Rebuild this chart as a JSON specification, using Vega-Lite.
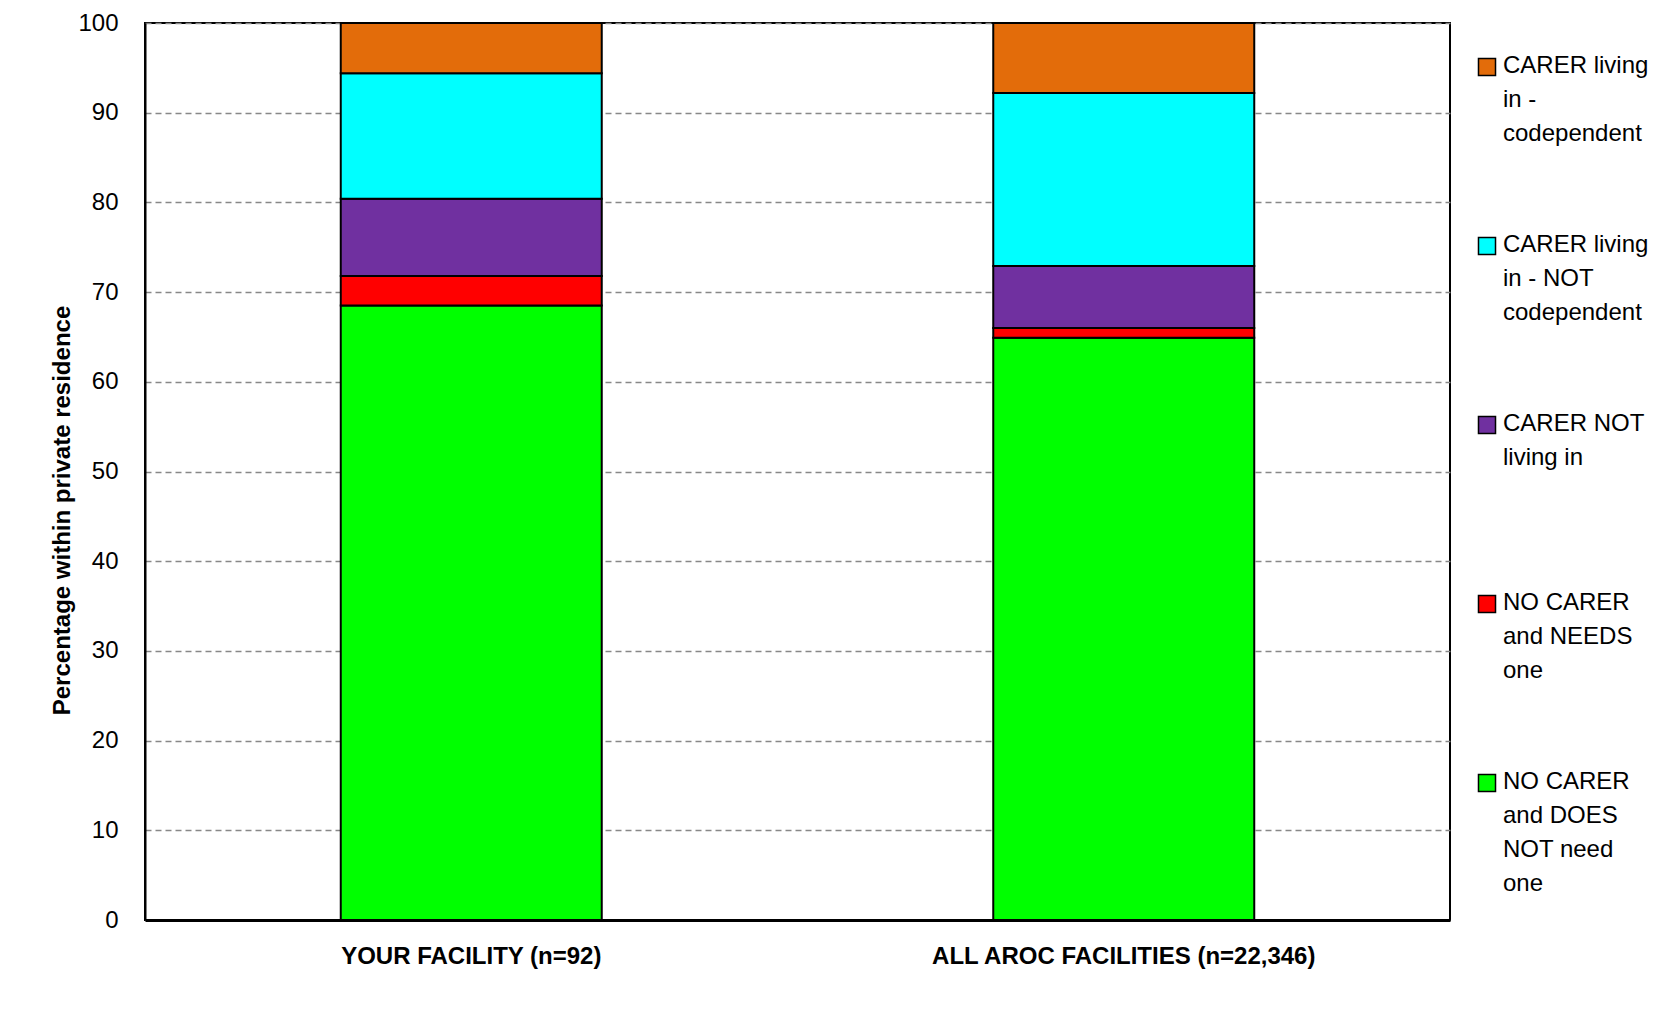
{
  "$schema": "https://vega.github.io/schema/vega-lite/v6.json",
  "width": 1305,
  "height": 897,
  "autosize": "none",
  "padding": {"left": 145, "top": 23, "right": 221, "bottom": 92},
  "background": "white",
  "data": {
    "values": [
      {"group": "YOUR FACILITY (n=92)", "category": "NO CARER and DOES NOT need one", "pct": 68.5},
      {"group": "YOUR FACILITY (n=92)", "category": "NO CARER and NEEDS one", "pct": 3.3},
      {"group": "YOUR FACILITY (n=92)", "category": "CARER NOT living in", "pct": 8.6},
      {"group": "YOUR FACILITY (n=92)", "category": "CARER living in - NOT codependent", "pct": 14.0},
      {"group": "YOUR FACILITY (n=92)", "category": "CARER living in - codependent", "pct": 5.6},
      {"group": "ALL AROC FACILITIES (n=22,346)", "category": "NO CARER and DOES NOT need one", "pct": 64.9},
      {"group": "ALL AROC FACILITIES (n=22,346)", "category": "NO CARER and NEEDS one", "pct": 1.1},
      {"group": "ALL AROC FACILITIES (n=22,346)", "category": "CARER NOT living in", "pct": 6.9},
      {"group": "ALL AROC FACILITIES (n=22,346)", "category": "CARER living in - NOT codependent", "pct": 19.3},
      {"group": "ALL AROC FACILITIES (n=22,346)", "category": "CARER living in - codependent", "pct": 7.8}
    ]
  },
  "transform": [
    {"calculate": "datum.category == 'NO CARER and DOES NOT need one' ? 0 : datum.category == 'NO CARER and NEEDS one' ? 1 : datum.category == 'CARER NOT living in' ? 2 : datum.category == 'CARER living in - NOT codependent' ? 3 : 4", "as": "stackIdx"}
  ],
  "mark": {"type": "bar", "stroke": "black", "strokeWidth": 2},
  "encoding": {
    "x": {
      "field": "group",
      "type": "nominal",
      "sort": ["YOUR FACILITY (n=92)", "ALL AROC FACILITIES (n=22,346)"],
      "scale": {"paddingInner": 0.6, "paddingOuter": 0.3},
      "axis": {
        "title": null,
        "labelAngle": 0,
        "labelFont": "Liberation Sans",
        "labelFontWeight": "bold",
        "labelFontSize": 24,
        "labelColor": "black",
        "labelLimit": 0,
        "labelPadding": 24,
        "ticks": false,
        "domainColor": "black",
        "domainWidth": 3
      }
    },
    "y": {
      "field": "pct",
      "type": "quantitative",
      "stack": "zero",
      "scale": {"domain": [0, 100], "nice": false},
      "axis": {
        "title": "Percentage within private residence",
        "titleFont": "Liberation Sans",
        "titleFontWeight": "bold",
        "titleFontSize": 24,
        "titleColor": "black",
        "titlePadding": 3,
        "titleY": 487,
        "values": [0, 10, 20, 30, 40, 50, 60, 70, 80, 90, 100],
        "labelFont": "Liberation Sans",
        "labelFontSize": 24,
        "labelColor": "black",
        "labelPadding": 27,
        "ticks": false,
        "domainColor": "black",
        "domainWidth": 2,
        "grid": true,
        "gridColor": "#888888",
        "gridDash": [6, 4],
        "gridWidth": 1.5
      }
    },
    "color": {
      "field": "category",
      "type": "nominal",
      "scale": {
        "domain": ["CARER living in - codependent", "CARER living in - NOT codependent", "CARER NOT living in", "NO CARER and NEEDS one", "NO CARER and DOES NOT need one"],
        "range": ["#E36C0A", "#00FFFF", "#7030A0", "#FF0000", "#00FF00"]
      },
      "legend": {
        "title": null,
        "orient": "right",
        "offset": -7,
        "padding": 32,
        "symbolType": "square",
        "symbolSize": 290,
        "symbolStrokeColor": "black",
        "symbolStrokeWidth": 1.5,
        "symbolOpacity": 1,
        "labelFont": "Liberation Sans",
        "labelFontSize": 24,
        "labelColor": "black",
        "labelLimit": 300,
        "labelOffset": 4,
        "labelBaseline": "top",
        "gridAlign": "all",
        "rowPadding": 53,
        "labelExpr": "datum.label == 'CARER living in - codependent' ? ['CARER living', 'in -', 'codependent'] : datum.label == 'CARER living in - NOT codependent' ? ['CARER living', 'in - NOT', 'codependent'] : datum.label == 'CARER NOT living in' ? ['CARER NOT', 'living in'] : datum.label == 'NO CARER and NEEDS one' ? ['NO CARER', 'and NEEDS', 'one'] : ['NO CARER', 'and DOES', 'NOT need', 'one']",
        "encode": {
          "labels": {"update": {"lineHeight": {"value": 34}, "dy": {"value": -13}}}
        }
      }
    },
    "order": {"field": "stackIdx", "type": "quantitative"}
  },
  "config": {
    "view": {"stroke": "black", "strokeWidth": 2},
    "font": "Liberation Sans"
  }
}
